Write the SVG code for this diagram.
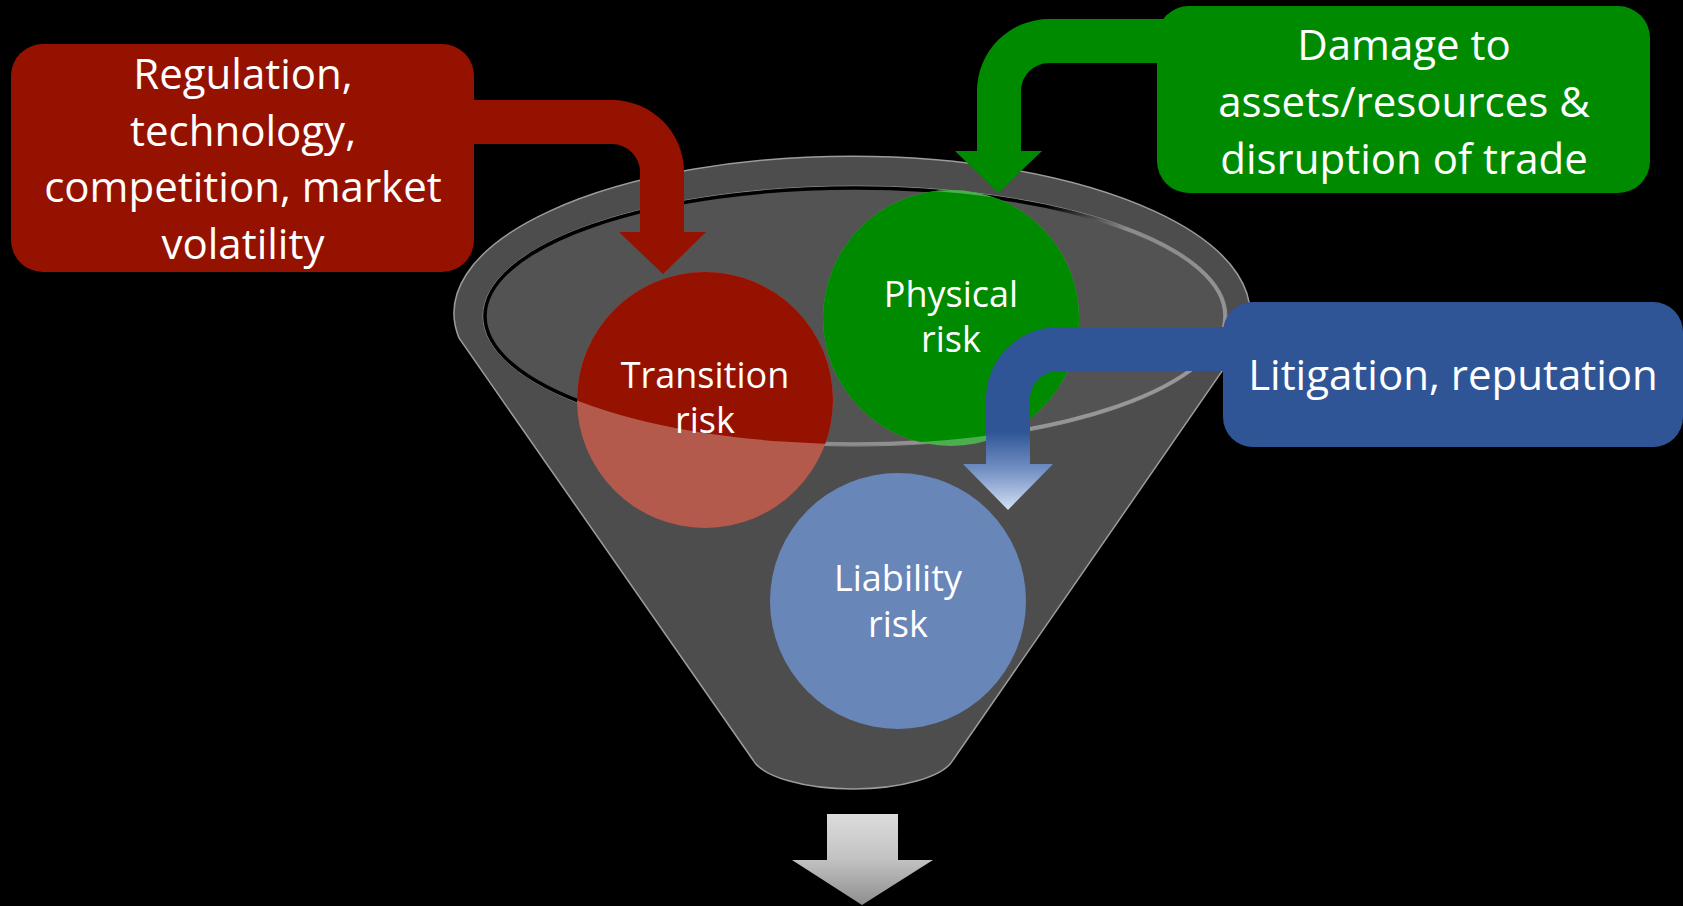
<svg xmlns="http://www.w3.org/2000/svg" width="1683" height="906" viewBox="0 0 1683 906">
  <defs>
    <style>
      .box-text { font-family: "Open Sans", "Noto Sans", sans-serif; font-size: 42px; fill: #ffffff; text-anchor: middle; }
      .circ-text { font-family: "Open Sans", "Noto Sans", sans-serif; font-size: 36px; fill: #ffffff; text-anchor: middle; }
    </style>
    <clipPath id="innerClip">
      <ellipse cx="855" cy="316" rx="370" ry="128"/>
    </clipPath>
    <linearGradient id="rimGrad" x1="0" y1="0.2" x2="1" y2="0.8">
      <stop offset="0" stop-color="#000000"/>
      <stop offset="0.5" stop-color="#000000"/>
      <stop offset="0.62" stop-color="#8a8a8a"/>
      <stop offset="1" stop-color="#9a9a9a"/>
    </linearGradient>
    <linearGradient id="blueGrad" gradientUnits="userSpaceOnUse" x1="0" y1="327" x2="0" y2="510">
      <stop offset="0" stop-color="#2f5597"/>
      <stop offset="0.57" stop-color="#2f5597"/>
      <stop offset="0.78" stop-color="#7390c3"/>
      <stop offset="1" stop-color="#d4e0f5"/>
    </linearGradient>
    <linearGradient id="grayGrad" gradientUnits="userSpaceOnUse" x1="0" y1="814" x2="0" y2="905">
      <stop offset="0" stop-color="#dcdcdc"/>
      <stop offset="0.5" stop-color="#c2c2c2"/>
      <stop offset="1" stop-color="#8e8e8e"/>
    </linearGradient>
  </defs>

  <rect x="0" y="0" width="1683" height="906" fill="#000000"/>

  <g id="funnel">
    <path d="M 459,338 A 398 157 0 1 1 1245,338 L 953,760 A 102 36 0 0 1 753,760 Z" fill="#4d4d4d" stroke="#9c9c9c" stroke-width="1.5"/>
    <ellipse cx="855" cy="316" rx="372" ry="130" fill="none" stroke="#8c8c8c" stroke-width="1"/>
    <ellipse cx="855" cy="316" rx="370" ry="128" fill="#535353" stroke="url(#rimGrad)" stroke-width="3.5"/>
  </g>

  <g id="transition-risk">
    <circle cx="705" cy="400" r="128" fill="#b45a4c"/>
    <circle cx="705" cy="400" r="128" fill="#951200" clip-path="url(#innerClip)"/>
    <text class="circ-text" x="705" y="388">Transition</text>
    <text class="circ-text" x="705" y="433">risk</text>
  </g>

  <g id="physical-risk">
    <circle cx="951" cy="318" r="128" fill="#4cae4f"/>
    <circle cx="951" cy="318" r="128" fill="#008a00" clip-path="url(#innerClip)"/>
    <text class="circ-text" x="951" y="307">Physical</text>
    <text class="circ-text" x="951" y="352">risk</text>
  </g>

  <g id="liability-risk">
    <circle cx="898" cy="601" r="128" fill="#6986b8"/>
    <text class="circ-text" x="898" y="591">Liability</text>
    <text class="circ-text" x="898" y="637">risk</text>
  </g>

  <g id="connectors">
    <path d="M 460,100 L 612,100 A 72 72 0 0 1 684,172 L 684,232 L 706,232 L 663,274 L 619,232 L 640,232 L 640,172 A 28 28 0 0 0 612,144 L 460,144 Z" fill="#951200"/>
    <path d="M 1170,19 L 1049,19 A 72 72 0 0 0 977,91 L 977,151 L 955,151 L 998,193 L 1042,151 L 1021,151 L 1021,91 A 28 28 0 0 1 1049,63 L 1170,63 Z" fill="#008a00"/>
    <path d="M 1240,327 L 1058,327 A 72 72 0 0 0 986,399 L 986,464 L 963,464 L 1008,510 L 1053,464 L 1030,464 L 1030,399 A 28 28 0 0 1 1058,371 L 1240,371 Z" fill="url(#blueGrad)"/>
    <path d="M 827,814 L 898,814 L 898,860 L 933,860 L 862,905 L 792,860 L 827,860 Z" fill="url(#grayGrad)"/>
  </g>

  <g id="transition-drivers">
    <rect x="11" y="44" width="463" height="228" rx="32" ry="32" fill="#951200"/>
    <text class="box-text" x="243" y="89">Regulation,</text>
    <text class="box-text" x="243" y="146">technology,</text>
    <text class="box-text" x="243" y="202">competition, market</text>
    <text class="box-text" x="243" y="259">volatility</text>
  </g>

  <g id="physical-drivers">
    <rect x="1157" y="6" width="493" height="187" rx="32" ry="32" fill="#008a00"/>
    <text class="box-text" x="1404" y="60">Damage to</text>
    <text class="box-text" x="1404" y="117">assets/resources &amp;</text>
    <text class="box-text" x="1404" y="174">disruption of trade</text>
  </g>

  <g id="liability-drivers">
    <rect x="1223" y="302" width="460" height="145" rx="30" ry="30" fill="#2f5597"/>
    <text class="box-text" x="1453" y="390">Litigation, reputation</text>
  </g>
</svg>
